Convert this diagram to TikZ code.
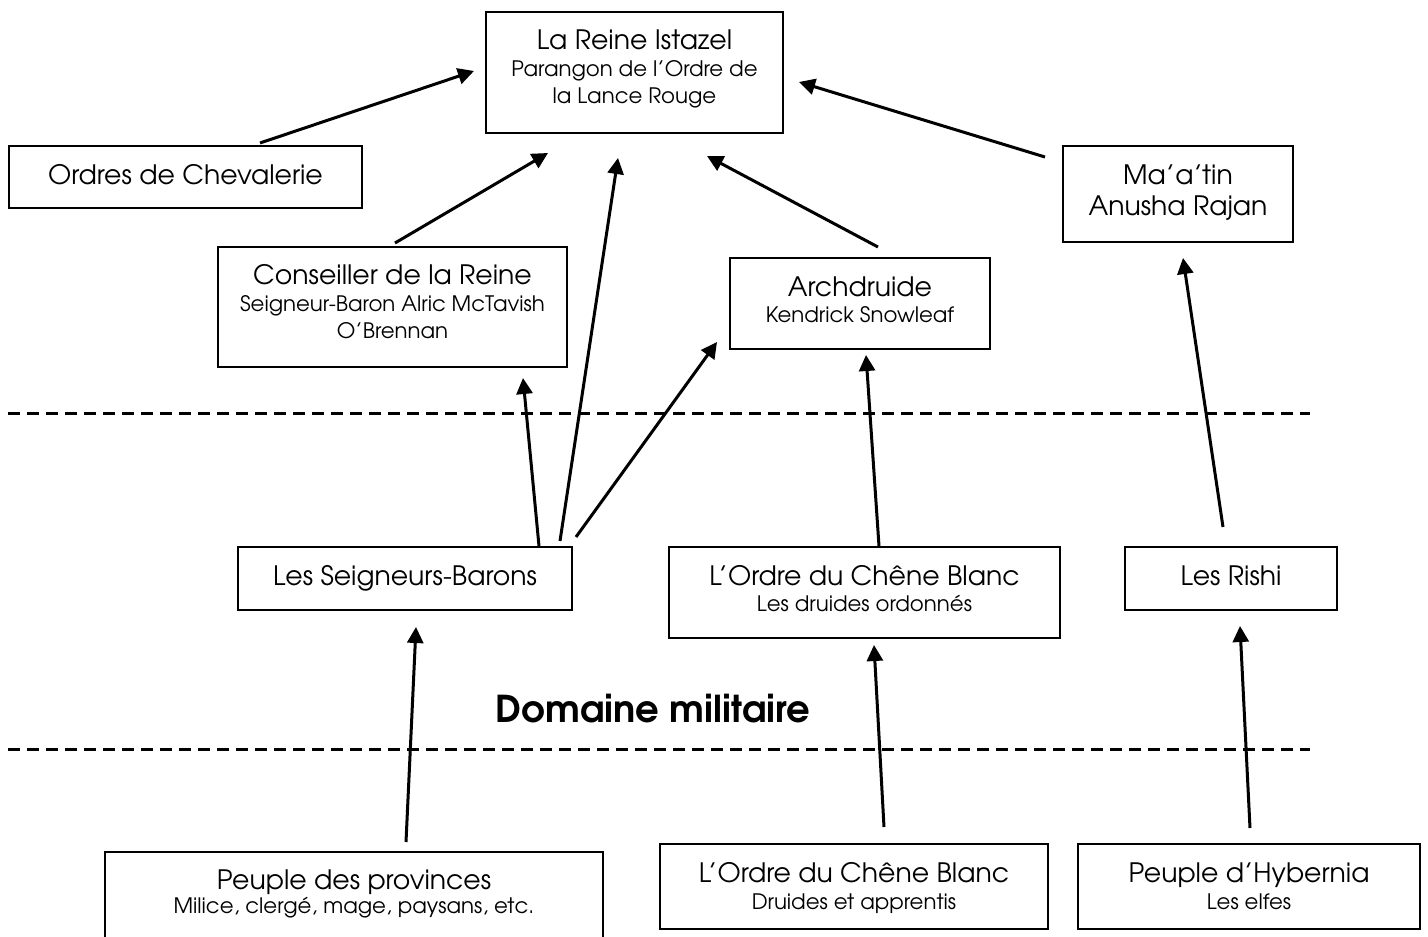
\documentclass[tikz,border=0pt]{standalone}
\usepackage{fontspec}
\setmainfont{TeX Gyre Adventor}
\usetikzlibrary{arrows.meta,calc}
\tikzset{
  box/.style={draw, line width=2pt, inner sep=0pt},
  mainline/.style={anchor=base, inner sep=0pt, font=\fontsize{26.7}{31}\selectfont},
  subline/.style={anchor=base, inner sep=0pt, font=\fontsize{21.3}{25}\selectfont},
  arr/.style={line width=3pt, -{Triangle[length=16pt,width=16pt]}},
  sep/.style={line width=3pt, dash pattern=on 12pt off 7pt}
}
\begin{document}
\begin{tikzpicture}[x=1pt,y=-1pt]
\clip (0,0) rectangle (1428,937);
\fill[white] (0,0) rectangle (1428,937);

% boxes
\node[box, minimum width=297, minimum height=121] (reine) at (634.5,72.5) {};
\node[box, minimum width=353, minimum height=62] (ordres) at (185.5,177) {};
\node[box, minimum width=349, minimum height=120] (cons) at (392.5,307) {};
\node[box, minimum width=260, minimum height=91] (arch) at (860,303.5) {};
\node[box, minimum width=230, minimum height=96] (maat) at (1178,194) {};
\node[box, minimum width=334, minimum height=63] (sb) at (405,578.5) {};
\node[box, minimum width=391, minimum height=91] (ocb) at (864.5,592.5) {};
\node[box, minimum width=212, minimum height=63] (rishi) at (1231,578.5) {};
\node[box, minimum width=498, minimum height=120, anchor=north] (prov) at (354,851) {};
\node[box, minimum width=388, minimum height=85] (ocbb) at (854,886.5) {};
\node[box, minimum width=342, minimum height=85] (hyb) at (1249,886.5) {};

% texts
\node[mainline] (reine1) at (634.5,49) {La Reine Istazel};
\node[subline] (reine2) at (634.5,76) {Parangon de l’Ordre de};
\node[subline] (reine3) at (634.5,103) {la Lance Rouge};
\node[mainline] (ordres1) at (185.5,184) {Ordres de Chevalerie};
\node[mainline] (cons1) at (392.5,284) {Conseiller de la Reine};
\node[subline] (cons2) at (392.5,311) {Seigneur-Baron Alric McTavish};
\node[subline] (cons3) at (392.5,338) {O’Brennan};
\node[mainline] (arch1) at (860,296) {Archdruide};
\node[subline] (arch2) at (860,322) {Kendrick Snowleaf};
\node[mainline] (maat1) at (1178,184) {Ma’a’tin};
\node[mainline] (maat2) at (1178,215) {Anusha Rajan};
\node[mainline] (sb1) at (405,585) {Les Seigneurs-Barons};
\node[mainline] (ocb1) at (864.5,585) {L’Ordre du Chêne Blanc};
\node[subline] (ocb2) at (864.5,611) {Les druides ordonnés};
\node[mainline] (rishi1) at (1231,585) {Les Rishi};
\node[anchor=base, inner sep=0pt, font=\fontsize{37}{42}\selectfont\bfseries] (dom) at (653,722) {Domaine militaire};
\node[mainline] (prov1) at (354,889) {Peuple des provinces};
\node[subline] (prov2) at (354,913) {Milice, clergé, mage, paysans, etc.};
\node[mainline] (ocbb1) at (854,882) {L’Ordre du Chêne Blanc};
\node[subline] (ocbb2) at (854,909) {Druides et apprentis};
\node[mainline] (hyb1) at (1249,882) {Peuple d’Hybernia};
\node[subline] (hyb2) at (1249,909) {Les elfes};

% separators
\draw[sep] (8,413) -- (1310,413);
\draw[sep] (8,749) -- (1310,749);

% connectors
\draw[arr] ($(ordres.north)+(74.5,-2)$) -- ($(reine.west)+(-11,-1.5)$);
\draw[arr] ($(cons.north)+(2.5,-3)$) -- ($(reine.south)+(-86.5,19)$);
\draw[arr] ($(sb.north)+(134,0)$) -- ($(cons.south)+(130.5,10)$);
\draw[arr] ($(sb.north)+(155,-5)$) -- ($(reine.south)+(-16.5,24)$);
\draw[arr] ($(sb.north)+(171,-9)$) -- ($(arch.south west)+(-12,-8)$);
\draw[arr] ($(arch.north)+(18,-10)$) -- ($(reine.south)+(72.5,22)$);
\draw[arr] ($(maat.north west)+(-17,12)$) -- ($(reine.east)+(15,9.5)$);
\draw[arr] ($(ocb.north)+(14.5,0)$) -- ($(arch.south)+(6,5)$);
\draw[arr] ($(rishi.north)+(-8,-19)$) -- ($(maat.south)+(5,15)$);
\draw[arr] ($(prov.north)+(52,-9)$) -- ($(sb.south)+(11,16)$);
\draw[arr] ($(ocbb.north)+(30,-16)$) -- ($(ocb.south)+(9.5,6)$);
\draw[arr] ($(hyb.north)+(1,-15)$) -- ($(rishi.south)+(9,15)$);
\end{tikzpicture}
\end{document}
